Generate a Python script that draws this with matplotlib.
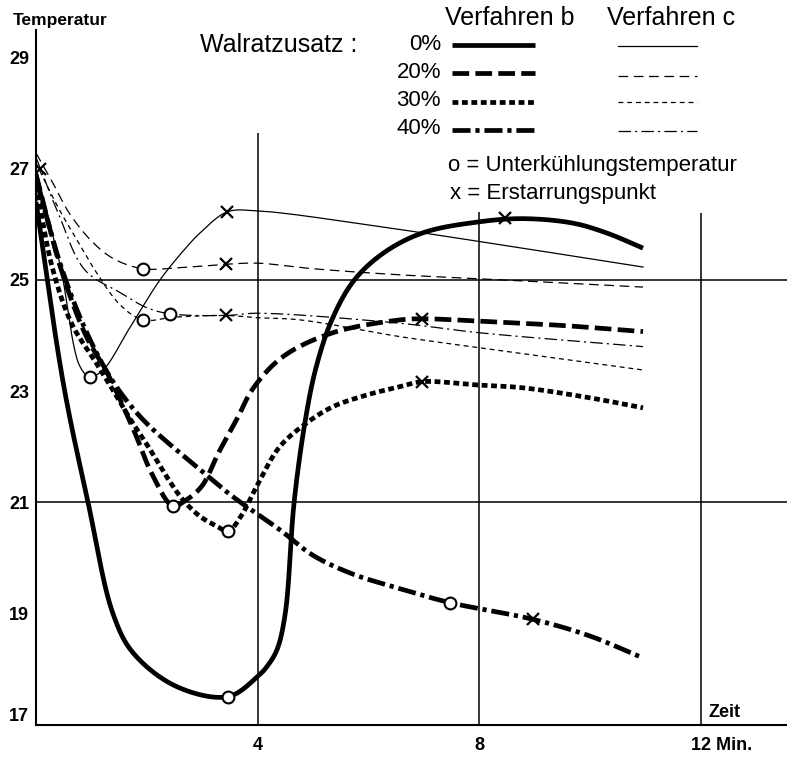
import numpy as np
import matplotlib
matplotlib.use("Agg")
import matplotlib.pyplot as plt
from matplotlib.lines import Line2D
from matplotlib import font_manager
import matplotlib.transforms as mtransforms

# ---------------- data ----------------
# Verfahren b (thick lines)
b0_x = [0, 0.5, 0.94, 1.39, 1.75, 2.54, 3.47, 4.0, 4.17, 4.35, 4.5, 4.66, 4.85, 5.05, 5.35, 5.75, 6.3, 7.0, 7.98, 8.79, 9.69, 10.31, 10.96]
b0_y = [26.4, 23.1, 21.0, 19.0, 18.3, 17.69, 17.51, 17.87, 18.05, 18.35, 19.0, 21.0, 22.4, 23.4, 24.3, 25.0, 25.5, 25.85, 26.04, 26.1, 26.02, 25.84, 25.57]
b20_x = [0, 0.45, 0.9, 1.3, 1.76, 2.1, 2.47, 2.72, 3.0, 3.3, 3.63, 3.92, 4.46, 5.36, 6.57, 6.97, 7.98, 9.5, 10.96]
b20_y = [26.9, 25.2, 24.0, 23.3, 22.31, 21.5, 20.94, 21.05, 21.3, 21.9, 22.5, 23.05, 23.62, 24.05, 24.28, 24.3, 24.26, 24.18, 24.07]
b30_x = [0, 0.3, 0.65, 1.06, 1.4, 1.7, 2.06, 2.4, 2.65, 2.96, 3.27, 3.47, 3.7, 3.99, 4.4, 4.89, 5.36, 5.97, 6.57, 6.97, 7.98, 8.79, 10.0, 10.96]
b30_y = [26.7, 25.2, 24.2, 23.55, 23.0, 22.5, 21.95, 21.4, 21.05, 20.75, 20.57, 20.48, 20.75, 21.3, 22.0, 22.43, 22.72, 22.93, 23.08, 23.17, 23.11, 23.06, 22.88, 22.7]
b40_x = [0, 0.5, 0.94, 1.34, 1.7, 2.06, 2.96, 3.56, 4.4, 5.0, 5.7, 6.5, 7.47, 8.97, 10.0, 10.9]
b40_y = [26.8, 25.1, 24.0, 23.25, 22.75, 22.36, 21.59, 21.1, 20.51, 20.05, 19.72, 19.47, 19.2, 18.9, 18.6, 18.23]

# Verfahren c (thin lines)
c0_x = [0, 0.2, 0.45, 0.79, 0.97, 1.21, 1.7, 2.24, 2.72, 2.96, 3.45, 3.99, 6.39, 8.0, 10.96]
c0_y = [27.0, 26.2, 25.2, 23.45, 23.26, 23.38, 24.15, 25.0, 25.59, 25.84, 26.22, 26.24, 25.93, 25.69, 25.23]
c20_x = [0, 0.3, 0.6, 1.0, 1.4, 1.93, 2.6, 3.43, 3.99, 5.0, 6.57, 8.0, 10.96]
c20_y = [27.28, 26.75, 26.2, 25.7, 25.38, 25.2, 25.22, 25.28, 25.3, 25.2, 25.09, 25.02, 24.87]
c30_x = [0, 0.4, 0.75, 1.06, 1.52, 1.93, 2.5, 3.43, 3.99, 4.77, 6.57, 8.0, 10.96]
c30_y = [27.1, 26.3, 25.7, 25.18, 24.55, 24.28, 24.33, 24.36, 24.32, 24.28, 23.98, 23.78, 23.38]
c40_x = [0, 0.4, 0.88, 1.52, 2.0, 2.42, 3.43, 3.99, 6.57, 8.0, 10.96]
c40_y = [27.2, 26.2, 25.18, 24.77, 24.5, 24.39, 24.36, 24.4, 24.22, 24.05, 23.8]

# Unterkühlungstemperatur (circles) and Erstarrungspunkt (crosses)
circle_x = [3.47, 2.47, 3.47, 7.47, 0.97, 1.93, 1.93, 2.42]
circle_y = [17.51, 20.94, 20.48, 19.2, 23.26, 25.2, 24.28, 24.39]
cross_x = [8.47, 6.97, 6.97, 8.97, 3.45, 3.43, 3.43, 0.07]
cross_y = [26.11, 24.3, 23.17, 18.9, 26.22, 25.28, 24.36, 27.0]

y_ticks = [17, 19, 21, 23, 25, 27, 29]
x_ticks = [4, 8, 12]
x_ticklabels = ["4", "8", "12 Min."]
grid_h = [21, 25]
grid_v = [4, 8, 12]
grid_v_top = [27.64, 26.22, 26.2]
percent_labels = ["0%", "20%", "30%", "40%"]

# ---------------- fonts ----------------
names = {f.name for f in font_manager.fontManager.ttflist}
has_narrow = "Liberation Sans Narrow" in names
base = "Liberation Sans" if "Liberation Sans" in names else "DejaVu Sans"
narrow = "Liberation Sans Narrow" if has_narrow else base
nsize = 20 if has_narrow else 16

plt.rcParams["font.family"] = [base, "DejaVu Sans"]
plt.rcParams["lines.scale_dashes"] = False


def catmull(xs, ys, n=24):
    P = np.column_stack([xs, ys]).astype(float)
    P = np.vstack([2 * P[0] - P[1], P, 2 * P[-1] - P[-2]])
    out = [P[1]]
    for i in range(1, len(P) - 2):
        p0, p1, p2, p3 = P[i - 1], P[i], P[i + 1], P[i + 2]

        def d(a, b):
            return max(np.linalg.norm(b - a) ** 0.5, 1e-6)
        t0 = 0.0
        t1 = t0 + d(p0, p1)
        t2 = t1 + d(p1, p2)
        t3 = t2 + d(p2, p3)
        t = np.linspace(t1, t2, n)[1:, None]
        A1 = (t1 - t) / (t1 - t0) * p0 + (t - t0) / (t1 - t0) * p1
        A2 = (t2 - t) / (t2 - t1) * p1 + (t - t1) / (t2 - t1) * p2
        A3 = (t3 - t) / (t3 - t2) * p2 + (t - t2) / (t3 - t2) * p3
        B1 = (t2 - t) / (t2 - t0) * A1 + (t - t0) / (t2 - t0) * A2
        B2 = (t3 - t) / (t3 - t1) * A2 + (t - t1) / (t3 - t1) * A3
        C = (t2 - t) / (t2 - t1) * B1 + (t - t1) / (t2 - t1) * B2
        out.extend(C)
    out = np.array(out)
    return out[:, 0], out[:, 1]


W, H = 787, 759
fig = plt.figure(figsize=(W / 100, H / 100), dpi=100)
ax = fig.add_axes([36 / W, 34 / H, 751 / W, 695 / H])
ax.set_xlim(0, 13.56)
ax.set_ylim(17, 29.49)

thick = 3.4
thin = 0.9
styles_b = ["-", (0, (12, 4.5)), (0, (4.2, 2.6)), (0, (13, 3.5, 3, 3.5))]
styles_c = ["-", (0, (7, 4)), (0, (3.5, 2.8)), (0, (9, 3, 1.5, 3))]

series_b = [(b0_x, b0_y), (b20_x, b20_y), (b30_x, b30_y), (b40_x, b40_y)]
series_c = [(c0_x, c0_y), (c20_x, c20_y), (c30_x, c30_y), (c40_x, c40_y)]

for (xs, ys), ls in zip(series_b, styles_b):
    sx, sy = catmull(xs, ys)
    ax.plot(sx, sy, color="black", lw=thick, linestyle=ls, dash_capstyle="butt",
            solid_capstyle="butt", zorder=3)
for (xs, ys), ls in zip(series_c, styles_c):
    sx, sy = catmull(xs, ys)
    ax.plot(sx, sy, color="black", lw=thin, linestyle=ls, zorder=3)

ax.plot(circle_x, circle_y, linestyle="none", marker="o", ms=8.5, mfc="white",
        mec="black", mew=1.5, zorder=6)
ax.plot(cross_x, cross_y, linestyle="none", marker="x", ms=8, mec="black",
        mew=1.6, zorder=6)

# grid lines
for g in grid_h:
    ax.axhline(g, color="black", lw=1.1, zorder=2)
ax.vlines(grid_v, 17, grid_v_top, color="black", lw=1.1, zorder=2)

# spines
for s in ["top", "right"]:
    ax.spines[s].set_visible(False)
for s in ["left", "bottom"]:
    ax.spines[s].set_linewidth(1.5)

ax.set_yticks(y_ticks)
ax.set_yticklabels([str(v) for v in y_ticks], fontweight="bold", fontsize=13)
ax.set_yticks([19, 23], minor=True)
ax.tick_params(axis="y", which="major", length=0, pad=5)
ax.tick_params(axis="y", which="minor", length=9, width=1.2, direction="in")
ax.set_xticks(x_ticks)
ax.set_xticklabels(x_ticklabels, fontweight="bold", fontsize=13)
ax.tick_params(axis="x", which="major", length=0, pad=9)
for lbl in ax.get_yticklabels():
    if lbl.get_text() == "17":
        lbl.set_va("bottom")
for lbl in ax.get_xticklabels():
    if lbl.get_text().startswith("12"):
        lbl.set_ha("left")
        lbl.set_transform(lbl.get_transform() +
                          mtransforms.ScaledTranslation(-10 / 100, 0, fig.dpi_scale_trans))

ax.annotate("Zeit", xy=(12, 17), xytext=(8, 4), textcoords="offset pixels",
            fontsize=13, fontweight="bold", ha="left", va="bottom")


def fx(px):
    return px / W


def fy(py):
    return 1 - py / H


fig.text(fx(13), fy(20), "Temperatur", fontsize=12.5, fontweight="bold",
         ha="left", va="center")
fig.text(fx(200), fy(45), "Walratzusatz :", fontsize=18, ha="left", va="center")
fig.text(fx(445), fy(18), "Verfahren b", fontsize=18, ha="left", va="center")
fig.text(fx(607), fy(18), "Verfahren c", fontsize=18, ha="left", va="center")

rows_y = [44, 72, 101, 129]
rows_yc = [46, 76, 102, 131]
for lab, yy, yc, lsb, lsc in zip(percent_labels, rows_y, rows_yc, styles_b, styles_c):
    fig.text(fx(441), fy(yy), lab, fontsize=nsize, family=[narrow, "DejaVu Sans"],
             ha="right", va="center")
    fig.add_artist(Line2D([fx(452), fx(535)], [fy(yy + 1), fy(yy + 1)], color="black",
                          lw=thick, linestyle=lsb, dash_capstyle="butt",
                          solid_capstyle="butt"))
    fig.add_artist(Line2D([fx(618), fx(697)], [fy(yc), fy(yc)], color="black",
                          lw=thin, linestyle=lsc))

fig.text(fx(448), fy(166), "o = Unterkühlungstemperatur", fontsize=nsize,
         family=[narrow, "DejaVu Sans"], ha="left", va="center")
fig.text(fx(450), fy(194), "x = Erstarrungspunkt", fontsize=nsize,
         family=[narrow, "DejaVu Sans"], ha="left", va="center")

fig.savefig("out.png", dpi=100)
